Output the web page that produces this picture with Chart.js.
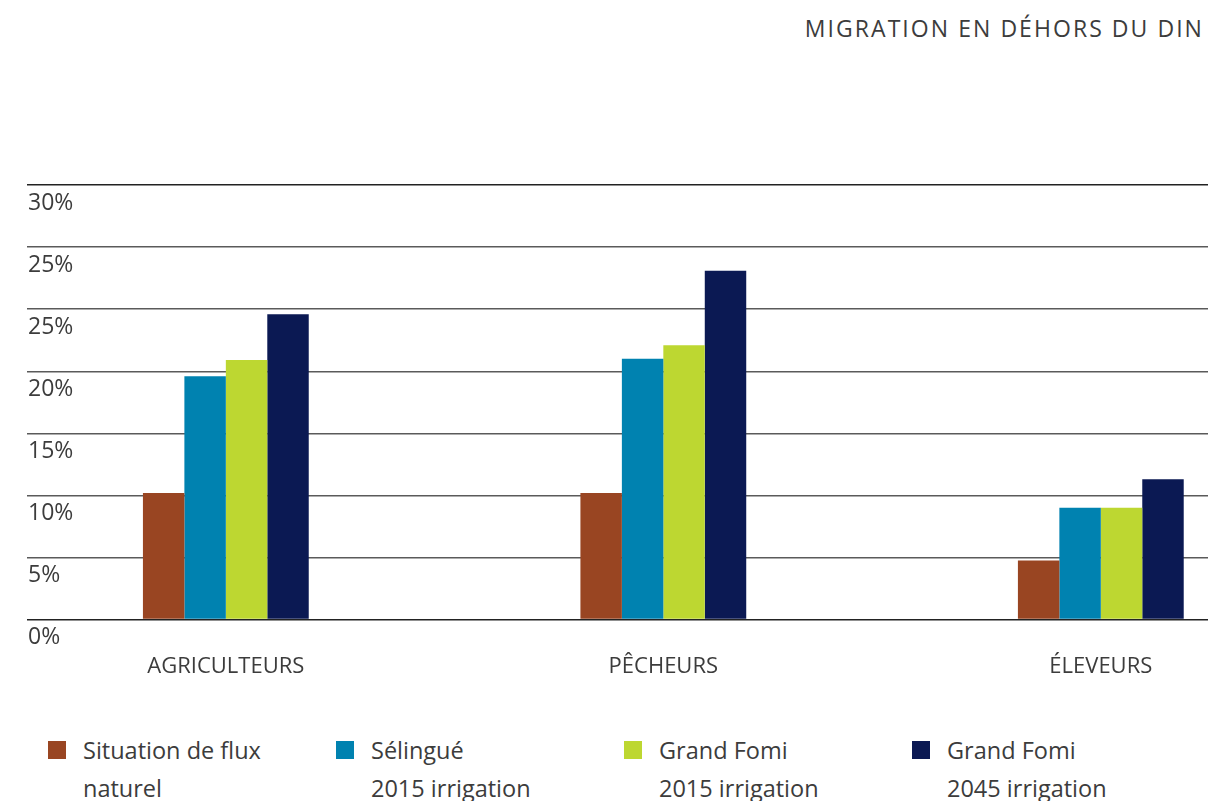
<!DOCTYPE html>
<html lang="fr">
<head>
<meta charset="utf-8">
<title>Migration en déhors du Din</title>
<script src="https://cdn.jsdelivr.net/npm/chart.js@4"></script>
<style>
  body { margin: 0; background: #fff; font-family: "Open Sans", sans-serif; color: #3c3c3c; }
  #wrap { position: relative; width: 1208px; height: 801px; overflow: hidden; }
  #titre { position: absolute; right: 4px; top: 12px; margin: 0; font-size: 23px; font-weight: 400; letter-spacing: 2.05px; color: #3c3c3c; }
  #graph { position: absolute; left: 0; top: 0; }
  #legende { position: absolute; left: 0; top: 731px; width: 1208px; }
  .item { position: absolute; top: 0; font-size: 23.5px; line-height: 38px; padding-left: 35px; white-space: nowrap; }
  .item i { position: absolute; left: 0; top: 10px; width: 18px; height: 18px; }
</style>
</head>
<body>
<div id="wrap">
  <h1 id="titre">MIGRATION EN DÉHORS DU DIN</h1>
  <canvas id="graph" width="1208" height="720"></canvas>
  <div id="legende"></div>
</div>
<script>
const categories = ['AGRICULTEURS', 'PÊCHEURS', 'ÉLEVEURS']
const yTickLabels = ['0%', '5%', '10%', '15%', '20%', '25%', '25%', '30%']

const seriesNames = [
    ['Situation de flux', 'naturel'],
    ['Sélingué', '2015 irrigation'],
    ['Grand Fomi', '2015 irrigation'],
    ['Grand Fomi', '2045 irrigation']
]
const seriesColors = ['#994522', '#0082b0', '#bdd731', '#0b1953']

const fluxNaturel = [10.2, 10.2, 4.75]
const selingue2015 = [19.6, 21.0, 9.0]
const fomi2015 = [20.9, 22.1, 9.0]
const fomi2045 = [24.6, 28.1, 11.3]

const values = [fluxNaturel, selingue2015, fomi2015, fomi2045]

const graph = document.querySelector('#graph')

function legende() {
    const box = document.querySelector('#legende')
    seriesNames.forEach((name, i) => {
        const item = document.createElement('div')
        item.className = 'item'
        item.style.left = (48 + i * 288) + 'px'
        item.innerHTML = '<i style="background:' + seriesColors[i] + '"></i>' + name.join('<br>')
        box.appendChild(item)
    })
}

function migrationChart() {
    new Chart(graph, {
        type: 'bar',
        data: {
            datasets: values.map((serie, i) => ({
                label: seriesNames[i].join(' '),
                data: serie.map((v, j) => ({ x: j, y: v })),
                backgroundColor: seriesColors[i],
                borderWidth: 0,
                categoryPercentage: 0.379,
                barPercentage: 1
            }))
        },
        options: {
            responsive: false,
            animation: false,
            layout: {
                padding: { left: 25, right: 0, top: 185, bottom: 14 }
            },
            plugins: {
                legend: { display: false },
                tooltip: { enabled: false }
            },
            scales: {
                x: {
                    type: 'linear',
                    offset: false,
                    min: -0.4545,
                    max: 2.245,
                    grid: { display: false, offset: false },
                    border: { display: false },
                    afterBuildTicks: axis => {
                        axis.ticks = categories.map((c, i) => ({ value: i }))
                    },
                    ticks: {
                        padding: 26,
                        maxRotation: 0,
                        color: '#3c3c3c',
                        font: { family: 'Open Sans', size: 22 },
                        callback: value => categories[value]
                    }
                },
                y: {
                    min: 0,
                    max: 35,
                    border: { display: false },
                    grid: {
                        drawTicks: false,
                        lineWidth: 1.5,
                        color: ctx => (ctx.tick.value === 0 || ctx.tick.value === 35) ? '#222' : '#5a5a5a'
                    },
                    ticks: {
                        stepSize: 5,
                        mirror: true,
                        padding: 1,
                        labelOffset: 18,
                        color: '#3c3c3c',
                        font: { family: 'Open Sans', size: 23 },
                        callback: (value, index) => yTickLabels[index]
                    }
                }
            }
        }
    })
}

legende()
migrationChart()
</script>
</body>
</html>
